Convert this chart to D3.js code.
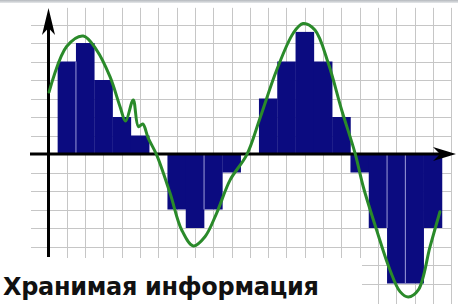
<!DOCTYPE html>
<html>
<head>
<meta charset="utf-8">
<script src="https://d3js.org/d3.v7.min.js"></script>
<style>
body {
  margin: 0;
  background-color: #fff;
  overflow: hidden;
}
</style>
</head>
<body>
<svg width="458" height="304" id="vis"></svg>

<script>
// sampled levels, one per step of the staircase (grid units above/below the x axis)
var levels = [5, 6, 4, 2, 1, 0, -3, -4, -3, -1, 0, 3, 5, 6.6, 5, 2, -1, -4, -7, -7, -4];

// steps that show a thin light seam on their left side
var seams = [1, 8, 18, 19];

// the analog signal (x and y in grid units)
var curveX = [0.03, 0.99, 1.90, 2.63, 3.36, 3.91, 4.21, 4.63, 4.91, 5.15, 5.45, 5.91,
              6.64, 7.28, 7.91, 8.55, 9.19, 9.92, 10.83, 11.56, 12.47, 13.38, 13.91,
              14.56, 15.29, 16.02, 16.75, 17.20, 17.93, 18.66, 19.21, 19.66, 20.21,
              20.85, 21.39];
var curveY = [3.35, 5.81, 6.38, 5.62, 4.18, 2.56, 1.78, 2.92, 1.48, 1.62, 0.86, -0.05,
              -2.11, -4.11, -4.97, -4.47, -3.19, -1.41, -0.05, 1.95, 4.54, 6.54, 7.05,
              6.70, 4.90, 2.38, 0.05, -1.77, -4.11, -6.27, -7.44, -7.73, -7.35,
              -5.01, -3.12];

var caption = "Хранимая информация";

var svg = d3.select("svg"),
    width = +svg.attr("width"),
    height = +svg.attr("height"),
    g = svg.append("g");

// one grid cell is ~18px wide and ~18.5px tall
var x = d3.scaleLinear().domain([0, 22]).range([48.5, 451.1]);
var y = d3.scaleLinear().domain([-8, 8]).range([302, 6]);

// thin grey strip along the top edge
var grad = svg.append("defs").append("linearGradient")
    .attr("id", "topfade").attr("x1", 0).attr("y1", 0).attr("x2", 0).attr("y2", 1);
grad.append("stop").attr("offset", "0%").attr("stop-color", "#b4b8bd");
grad.append("stop").attr("offset", "100%").attr("stop-color", "#e6e8ea");
g.append("rect")
    .attr("x", 0).attr("y", 0)
    .attr("width", width).attr("height", 3)
    .attr("fill", "url(#topfade)");

// grid
g.selectAll("line.vgrid")
    .data(d3.range(1, 23))
    .enter().append("line")
    .attr("class", "vgrid")
    .attr("x1", function(d) { return Math.round(x(d)) + 0.5; })
    .attr("x2", function(d) { return Math.round(x(d)) + 0.5; })
    .attr("y1", y(7.9))
    .attr("y2", height)
    .attr("stroke", "#c6c6c6")
    .attr("stroke-width", 1);

g.selectAll("line.hgrid")
    .data(d3.range(-7, 8))
    .enter().append("line")
    .attr("class", "hgrid")
    .attr("x1", 31)
    .attr("x2", x(22))
    .attr("y1", function(d) { return Math.round(y(d)) + 0.5; })
    .attr("y2", function(d) { return Math.round(y(d)) + 0.5; })
    .attr("stroke", "#c6c6c6")
    .attr("stroke-width", 1);

// the caption sits on a white patch that hides the bottom-left of the grid
g.append("rect")
    .attr("x", 0).attr("y", 258)
    .attr("width", 362).attr("height", height - 258)
    .attr("fill", "#fff");

// staircase of samples
g.selectAll("rect.step")
    .data(levels)
    .enter().append("rect")
    .attr("class", "step")
    .attr("x", function(d, i) { return x(i + 0.5); })
    .attr("width", function(d, i) { return x(i + 1.5) - x(i + 0.5) + 0.3; })
    .attr("y", function(d) { return Math.min(y(d), y(0)); })
    .attr("height", function(d) { return Math.abs(y(d) - y(0)); })
    .attr("fill", "#0b0b80");

g.selectAll("line.seam")
    .data(seams)
    .enter().append("line")
    .attr("class", "seam")
    .attr("x1", function(d) { return x(d + 0.5); })
    .attr("x2", function(d) { return x(d + 0.5); })
    .attr("y1", y(0))
    .attr("y2", function(d) {
      var a = levels[d - 1], b = levels[d];
      var m = Math.abs(a) < Math.abs(b) ? a : b;
      return y(m);
    })
    .attr("stroke", "#9a9ad8")
    .attr("stroke-width", 1);

// axes with arrows
g.append("line")
    .attr("x1", 30).attr("x2", 445)
    .attr("y1", y(0)).attr("y2", y(0))
    .attr("stroke", "#000").attr("stroke-width", 3);

g.append("path")
    .attr("d", "M456," + y(0) + " L433," + (y(0) - 7) + " L440," + y(0) + " L433," + (y(0) + 7) + " Z")
    .attr("fill", "#000");

g.append("line")
    .attr("x1", x(0)).attr("x2", x(0))
    .attr("y1", 257).attr("y2", 20)
    .attr("stroke", "#000").attr("stroke-width", 3);

g.append("path")
    .attr("d", "M" + x(0) + ",8 L" + (x(0) - 6.5) + ",35 L" + x(0) + ",28 L" + (x(0) + 6.5) + ",35 Z")
    .attr("fill", "#000");

// the analog signal
var pts = curveX.map(function(d, i) { return [d, curveY[i]]; });
var line = d3.line()
    .x(function(d) { return x(d[0]); })
    .y(function(d) { return y(d[1]); })
    .curve(d3.curveCatmullRom.alpha(0.5));

g.append("path")
    .datum(pts)
    .attr("d", line)
    .attr("fill", "none")
    .attr("stroke", "#2a8a2a")
    .attr("stroke-width", 3)
    .attr("stroke-linejoin", "round")
    .attr("stroke-linecap", "round");

// caption
g.append("text")
    .text(caption)
    .attr("x", 3)
    .attr("y", 295)
    .attr("font-family", "DejaVu Sans, sans-serif")
    .attr("font-weight", "bold")
    .attr("font-size", "24px")
    .attr("textLength", 316)
    .attr("lengthAdjust", "spacing")
    .attr("fill", "#111");
</script>
</body>
</html>
